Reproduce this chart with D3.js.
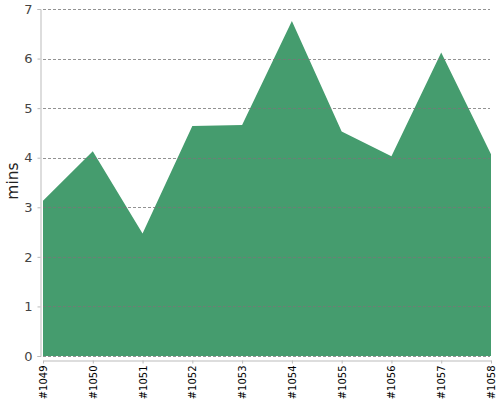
<!DOCTYPE html>
<html><head><meta charset="utf-8">
<script src="https://cdn.jsdelivr.net/npm/d3@7"></script>
<style>body{margin:0;background:#fff}</style>
</head><body>
<svg id="c" width="500" height="400"></svg>
<script>
const categories = ["#1049","#1050","#1051","#1052","#1053","#1054","#1055","#1056","#1057","#1058"];
const values = [3.13, 4.13, 2.47, 4.64, 4.66, 6.76, 4.53, 4.03, 6.12, 4.07];
const yTicks = [0,1,2,3,4,5,6,7];

const svg = d3.select("#c");
const x = d3.scalePoint().domain(categories).range([43, 491]);
const y = d3.scaleLinear().domain([0, 7]).range([356, 9]);

svg.append("path")
  .datum(values)
  .attr("fill", "#459c6e")
  .attr("d", d3.area().x((d,i)=>x(categories[i])).y0(y(0)).y1(d=>y(d)));

// grid
svg.append("g").selectAll("line").data(yTicks).join("line")
  .attr("x1", 43).attr("x2", 490)
  .attr("y1", d=>Math.round(y(d))+0.5).attr("y2", d=>Math.round(y(d))+0.5)
  .attr("stroke", "#777").attr("stroke-opacity", 0.8)
  .attr("stroke-dasharray", "3,2");

// y axis
const ya = svg.append("g").attr("transform","translate(40.5,0)")
  .call(d3.axisLeft(y).tickValues(yTicks).tickFormat(d3.format("d")).tickSize(3).tickPadding(5));
ya.select(".domain").attr("stroke","#bbb");
ya.selectAll(".tick line").attr("stroke","#bbb");
ya.selectAll("text").attr("font-family","DejaVu Sans").attr("font-size","13px").attr("fill","#444");

// x axis
const xa = svg.append("g").attr("transform","translate(0,360.5)")
  .call(d3.axisBottom(x).tickSize(3).tickSizeOuter(0));
xa.select(".domain").attr("stroke","#bbb");
xa.selectAll(".tick line").attr("stroke","#bbb");
xa.selectAll("text")
  .attr("font-family","DejaVu Sans").attr("font-size","10px").attr("fill","#000")
  .attr("transform","rotate(-90)")
  .attr("text-anchor","end")
  .attr("x", -5).attr("y", 0).attr("dy","0.35em");

svg.append("text")
  .attr("transform","translate(17.5,181) rotate(-90)")
  .attr("text-anchor","middle")
  .attr("font-family","DejaVu Sans").attr("font-size","15.5px").attr("fill","#222")
  .text("mins");
</script>
</body></html>
